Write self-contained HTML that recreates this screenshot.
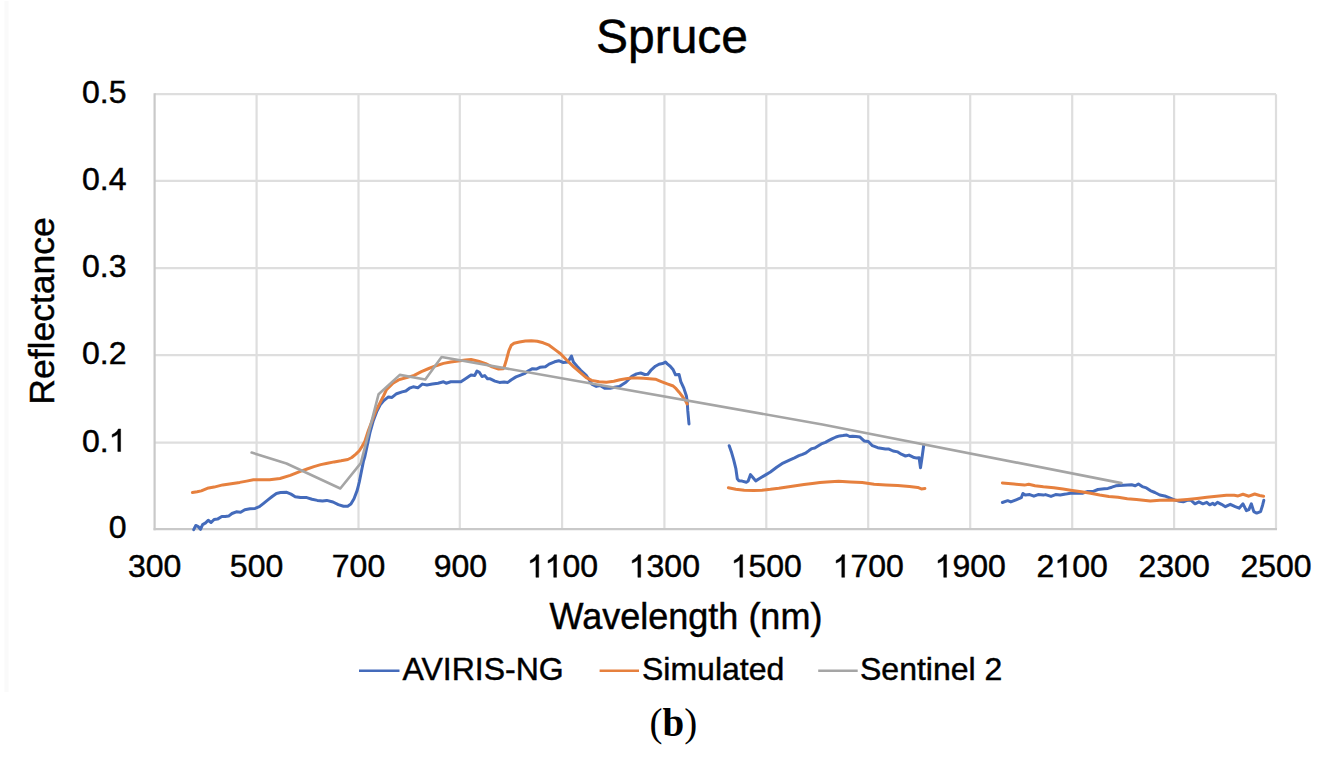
<!DOCTYPE html>
<html><head><meta charset="utf-8"><style>
html,body{margin:0;padding:0;background:#fff;width:1328px;height:762px;overflow:hidden}
svg{display:block}
text{font-family:"Liberation Sans",sans-serif;fill:#000;stroke:#000;stroke-width:0.45px}
</style></head><body>
<svg width="1328" height="762" viewBox="0 0 1328 762">
<rect x="0" y="0" width="1328" height="762" fill="#fff"/>
<rect x="4.5" y="1" width="4" height="691" fill="#fafafa"/>
<g>
<g stroke="#dedede" stroke-width="2.2">
<line x1="256.6" y1="94.2" x2="256.6" y2="529.2"/>
<line x1="358.5" y1="94.2" x2="358.5" y2="529.2"/>
<line x1="459.8" y1="94.2" x2="459.8" y2="529.2"/>
<line x1="562.1" y1="94.2" x2="562.1" y2="529.2"/>
<line x1="664.4" y1="94.2" x2="664.4" y2="529.2"/>
<line x1="766.3" y1="94.2" x2="766.3" y2="529.2"/>
<line x1="868.2" y1="94.2" x2="868.2" y2="529.2"/>
<line x1="970.2" y1="94.2" x2="970.2" y2="529.2"/>
<line x1="1072.2" y1="94.2" x2="1072.2" y2="529.2"/>
<line x1="1174.1" y1="94.2" x2="1174.1" y2="529.2"/>
<line x1="1276.0" y1="94.2" x2="1276.0" y2="529.2"/>
<line x1="154.6" y1="442.7" x2="1276.0" y2="442.7"/>
<line x1="154.6" y1="355.2" x2="1276.0" y2="355.2"/>
<line x1="154.6" y1="268.2" x2="1276.0" y2="268.2"/>
<line x1="154.6" y1="180.9" x2="1276.0" y2="180.9"/>
<line x1="154.6" y1="94.2" x2="1276.0" y2="94.2"/>
</g>
<line x1="154.6" y1="93.2" x2="154.6" y2="530.2" stroke="#c9c9c9" stroke-width="2.2"/>
<line x1="153.6" y1="529.2" x2="1277.0" y2="529.2" stroke="#c9c9c9" stroke-width="2.2"/>
</g>
<g>
<path d="M193.7,529.7 L195.8,525.5 L197.9,526.3 L200.5,529.3 L202.6,524.6 L205.6,522.9 L208.2,520.3 L211.1,522.5 L214.1,519.5 L217.5,519.1 L221.8,516.5 L225.2,516.5 L228.6,516.1 L232.0,513.5 L236.3,511.8 L240.6,512.2 L244.8,509.7 L250.0,508.8 L255.1,508.4 L259.4,506.7 L263.6,503.3 L267.9,499.9 L272.2,496.5 L276.4,493.5 L280.5,492.5 L286.8,492.3 L291.0,494.1 L295.2,496.7 L300.5,497.6 L306.8,497.6 L312.0,499.3 L317.3,500.4 L322.5,501.1 L326.7,500.4 L333.0,502.0 L338.3,504.6 L343.5,506.2 L347.7,506.2 L350.9,504.1 L354.0,498.8 L357.2,490.4 L359.3,482.0 L361.4,471.5 L363.5,461.0 L364.8,456.8 L367.8,442.6 L370.1,432.0 L373.1,421.3 L376.6,411.9 L380.2,404.8 L383.8,400.6 L388.4,396.9 L392.0,397.4 L396.6,393.7 L402.1,391.9 L405.8,391.0 L409.5,388.2 L413.2,386.8 L417.8,387.8 L422.3,384.1 L426.9,385.0 L432.4,384.1 L438.0,383.2 L443.5,381.8 L446.2,383.2 L450.8,381.8 L456.3,381.8 L460.9,381.8 L465.5,378.8 L471.0,375.1 L474.7,375.6 L477.0,371.0 L479.3,372.3 L482.0,376.5 L484.8,375.6 L487.5,378.8 L490.3,378.8 L494.9,381.1 L499.5,382.4 L504.1,382.0 L507.8,382.4 L511.4,379.7 L516.0,376.9 L520.6,375.1 L524.3,373.7 L528.0,371.0 L532.5,368.7 L536.2,369.1 L539.9,367.3 L545.4,366.8 L549.1,364.1 L554.6,361.8 L558.7,360.7 L563.3,362.5 L567.9,362.0 L571.5,356.1 L573.4,362.0 L577.0,366.2 L580.7,370.3 L586.2,375.4 L589.0,379.5 L591.7,384.1 L596.3,386.4 L600.0,385.5 L604.6,388.2 L610.1,388.2 L614.7,387.3 L619.3,386.4 L625.9,382.2 L631.8,376.3 L636.5,373.9 L640.7,373.0 L644.8,374.5 L647.8,374.2 L651.3,369.8 L655.4,366.2 L659.0,364.2 L662.5,363.6 L665.5,362.1 L667.3,363.9 L670.2,366.2 L673.2,369.8 L675.5,374.8 L679.1,374.5 L680.8,381.6 L683.8,388.1 L686.4,396.0 L687.2,401.4 L687.8,410.9 L689.0,423.9" stroke="#446bbb" stroke-width="3" fill="none" stroke-linejoin="round" stroke-linecap="round"/>
<path d="M729.2,445.7 L731.6,452.6 L733.7,459.9 L735.8,468.3 L737.3,478.8 L738.9,480.7 L742.1,481.1 L746.3,482.2 L748.2,480.9 L750.5,474.6 L753.1,477.8 L755.7,480.9 L759.9,478.3 L765.2,475.1 L770.4,472.0 L776.7,467.3 L783.0,463.1 L790.0,459.8 L794.5,457.8 L798.9,455.7 L802.5,454.4 L806.0,452.8 L809.0,450.6 L811.9,448.6 L814.8,448.0 L818.0,446.0 L821.3,443.9 L825.4,442.4 L829.0,440.4 L832.5,438.6 L836.0,437.0 L839.6,435.9 L843.0,435.6 L846.7,435.0 L849.7,436.5 L852.6,436.2 L856.0,436.6 L860.0,437.1 L864.1,440.9 L868.3,441.5 L872.4,445.7 L877.7,447.7 L885.4,448.9 L888.4,448.9 L893.1,451.0 L897.8,451.9 L901.3,454.2 L905.5,456.0 L909.0,455.1 L913.2,457.2 L916.7,458.1 L919.1,457.8 L920.5,467.8 L922.0,457.8 L923.8,444.8" stroke="#446bbb" stroke-width="3" fill="none" stroke-linejoin="round" stroke-linecap="round"/>
<path d="M1002.4,502.5 L1007.7,500.7 L1010.8,501.9 L1016.1,499.8 L1021.3,497.7 L1022.9,493.5 L1025.5,495.1 L1029.7,494.6 L1033.9,496.2 L1038.1,494.6 L1043.4,495.1 L1045.5,494.6 L1051.0,496.4 L1055.6,494.6 L1060.2,495.0 L1065.7,494.1 L1070.3,493.2 L1076.8,493.2 L1082.3,493.2 L1087.8,491.4 L1093.3,491.4 L1097.9,489.5 L1104.3,488.8 L1107.9,488.4 L1111.8,487.2 L1115.8,485.8 L1123.7,485.3 L1131.6,484.7 L1135.3,485.8 L1138.4,484.0 L1142.2,486.6 L1146.4,487.9 L1150.3,490.6 L1154.9,492.5 L1159.8,495.0 L1164.7,495.9 L1169.6,497.9 L1174.5,499.9 L1179.4,501.3 L1183.3,501.8 L1187.2,500.3 L1191.1,500.3 L1195.0,503.8 L1198.9,501.8 L1202.9,503.8 L1206.8,502.3 L1209.7,504.8 L1212.7,503.3 L1214.6,504.8 L1217.5,502.3 L1221.5,504.3 L1225.4,506.7 L1230.3,504.3 L1235.2,506.7 L1239.1,508.2 L1243.0,503.8 L1246.4,510.6 L1248.9,509.6 L1251.3,503.8 L1253.8,511.6 L1256.7,513.1 L1260.6,511.6 L1262.6,505.2 L1263.8,500.3" stroke="#446bbb" stroke-width="3" fill="none" stroke-linejoin="round" stroke-linecap="round"/>
<path d="M192.4,492.6 L197.1,491.8 L201.3,490.9 L207.3,488.3 L214.1,487.1 L222.7,484.9 L231.2,483.7 L239.7,482.4 L246.6,481.1 L253.4,479.8 L261.1,479.8 L269.6,479.8 L280.0,478.5 L290.2,475.4 L300.3,471.3 L307.1,469.0 L313.9,466.6 L320.7,464.6 L327.4,463.2 L334.2,461.9 L341.0,460.8 L347.8,459.5 L351.8,457.5 L355.9,454.1 L359.3,450.7 L362.0,446.5 L364.8,441.4 L368.3,430.8 L371.9,421.3 L375.4,411.9 L380.2,402.4 L383.5,396.0 L386.5,389.6 L393.0,383.2 L399.4,379.5 L406.7,377.6 L414.1,375.4 L421.4,371.7 L428.8,368.5 L436.1,365.7 L443.5,363.4 L450.8,362.0 L458.2,361.1 L465.5,359.9 L471.0,359.5 L478.4,361.3 L485.7,363.6 L492.1,366.8 L498.6,369.1 L503.2,368.7 L504.4,366.5 L506.5,359.5 L508.9,350.7 L511.3,345.2 L514.0,343.2 L519.5,342.0 L525.4,341.0 L531.3,340.7 L537.3,341.3 L543.2,342.8 L549.1,345.2 L555.0,349.6 L560.5,353.8 L566.9,360.2 L573.4,366.6 L579.8,372.1 L586.2,377.6 L591.7,380.4 L599.1,381.8 L606.4,382.2 L613.8,381.3 L620.0,379.8 L625.9,378.8 L631.8,378.0 L637.7,378.0 L643.6,378.3 L649.5,378.7 L655.4,379.2 L661.3,381.6 L667.3,383.9 L673.2,386.0 L676.1,388.7 L679.1,392.2 L683.2,397.5 L685.6,401.0 L687.2,404.0" stroke="#e6803e" stroke-width="3" fill="none" stroke-linejoin="round" stroke-linecap="round"/>
<path d="M728.4,487.8 L735.8,489.3 L744.2,490.2 L753.6,490.6 L762.0,490.2 L770.4,489.3 L778.8,488.2 L787.2,486.9 L795.6,485.8 L804.0,484.6 L812.4,483.6 L820.0,482.6 L826.8,481.9 L838.6,481.3 L850.4,481.9 L862.2,482.6 L874.1,484.2 L885.9,485.0 L897.7,485.6 L909.5,486.5 L917.8,487.4 L921.3,488.9 L924.9,488.5" stroke="#e6803e" stroke-width="3" fill="none" stroke-linejoin="round" stroke-linecap="round"/>
<path d="M1002.4,483.0 L1014.0,484.1 L1024.5,485.1 L1028.7,484.3 L1035.0,485.7 L1043.4,486.7 L1053.8,487.7 L1063.0,489.1 L1072.2,490.4 L1081.4,491.8 L1090.6,493.2 L1099.7,495.0 L1108.9,496.4 L1118.1,497.3 L1127.3,498.7 L1136.5,499.6 L1145.7,500.4 L1150.3,501.0 L1159.8,500.3 L1169.6,499.9 L1177.4,500.3 L1187.2,499.4 L1197.0,498.4 L1206.8,497.2 L1216.6,496.2 L1226.4,495.3 L1234.2,495.3 L1238.1,495.9 L1243.0,494.3 L1248.9,496.2 L1254.7,494.0 L1259.6,495.5 L1263.6,496.2" stroke="#e6803e" stroke-width="3" fill="none" stroke-linejoin="round" stroke-linecap="round"/>
<path d="M251.6,452.6 L286.5,463.5 L340.3,488.5 L360.8,463.1 L378.6,394.2 L399.8,374.9 L425.3,379.5 L441.6,357.0 L822.4,424.5 L1121.5,483.1" stroke="#a5a5a5" stroke-width="2.6" fill="none" stroke-linejoin="round" stroke-linecap="round"/>
<line x1="359" y1="670.7" x2="399.5" y2="670.7" stroke="#446bbb" stroke-width="2.4"/>
<line x1="599.6" y1="670.7" x2="639" y2="670.7" stroke="#e6803e" stroke-width="2.4"/>
<line x1="818.2" y1="670.7" x2="857.7" y2="670.7" stroke="#a5a5a5" stroke-width="2.4"/>
</g>
<g>
<text x="672" y="53.3" text-anchor="middle" font-size="48">Spruce</text>
<g font-size="32">
<text x="126.50" y="538.00" text-anchor="end">0</text>
<text x="126.50" y="451.50" text-anchor="end">0. </text>
<path transform="translate(108.70,451.50) scale(0.015625,-0.015625)" d="M763 0H583V1124Q518 1063 412 1003Q306 942 222 911V1082Q362 1147 467 1237Q572 1327 616 1443H763Z" stroke="#000" stroke-width="0.45" vector-effect="non-scaling-stroke"/>
<text x="126.50" y="364.00" text-anchor="end">0.2</text>
<text x="126.50" y="277.00" text-anchor="end">0.3</text>
<text x="126.50" y="189.70" text-anchor="end">0.4</text>
<text x="126.50" y="103.00" text-anchor="end">0.5</text>
<text x="154.60" y="577.30" text-anchor="middle">300</text>
<text x="256.55" y="577.30" text-anchor="middle">500</text>
<text x="358.50" y="577.30" text-anchor="middle">700</text>
<text x="460.45" y="577.30" text-anchor="middle">900</text>
<text x="562.40" y="577.30" text-anchor="middle">  00</text>
<path transform="translate(526.81,577.30) scale(0.015625,-0.015625)" d="M763 0H583V1124Q518 1063 412 1003Q306 942 222 911V1082Q362 1147 467 1237Q572 1327 616 1443H763Z" stroke="#000" stroke-width="0.45" vector-effect="non-scaling-stroke"/>
<path transform="translate(544.60,577.30) scale(0.015625,-0.015625)" d="M763 0H583V1124Q518 1063 412 1003Q306 942 222 911V1082Q362 1147 467 1237Q572 1327 616 1443H763Z" stroke="#000" stroke-width="0.45" vector-effect="non-scaling-stroke"/>
<text x="664.35" y="577.30" text-anchor="middle"> 300</text>
<path transform="translate(628.76,577.30) scale(0.015625,-0.015625)" d="M763 0H583V1124Q518 1063 412 1003Q306 942 222 911V1082Q362 1147 467 1237Q572 1327 616 1443H763Z" stroke="#000" stroke-width="0.45" vector-effect="non-scaling-stroke"/>
<text x="766.30" y="577.30" text-anchor="middle"> 500</text>
<path transform="translate(730.71,577.30) scale(0.015625,-0.015625)" d="M763 0H583V1124Q518 1063 412 1003Q306 942 222 911V1082Q362 1147 467 1237Q572 1327 616 1443H763Z" stroke="#000" stroke-width="0.45" vector-effect="non-scaling-stroke"/>
<text x="868.25" y="577.30" text-anchor="middle"> 700</text>
<path transform="translate(832.66,577.30) scale(0.015625,-0.015625)" d="M763 0H583V1124Q518 1063 412 1003Q306 942 222 911V1082Q362 1147 467 1237Q572 1327 616 1443H763Z" stroke="#000" stroke-width="0.45" vector-effect="non-scaling-stroke"/>
<text x="970.20" y="577.30" text-anchor="middle"> 900</text>
<path transform="translate(934.61,577.30) scale(0.015625,-0.015625)" d="M763 0H583V1124Q518 1063 412 1003Q306 942 222 911V1082Q362 1147 467 1237Q572 1327 616 1443H763Z" stroke="#000" stroke-width="0.45" vector-effect="non-scaling-stroke"/>
<text x="1072.15" y="577.30" text-anchor="middle">2 00</text>
<path transform="translate(1054.35,577.30) scale(0.015625,-0.015625)" d="M763 0H583V1124Q518 1063 412 1003Q306 942 222 911V1082Q362 1147 467 1237Q572 1327 616 1443H763Z" stroke="#000" stroke-width="0.45" vector-effect="non-scaling-stroke"/>
<text x="1174.10" y="577.30" text-anchor="middle">2300</text>
<text x="1276.05" y="577.30" text-anchor="middle">2500</text>
</g>
<text x="686" y="629.4" text-anchor="middle" font-size="36">Wavelength (nm)</text>
<text transform="translate(54.2,311) rotate(-90)" text-anchor="middle" font-size="35.5">Reflectance</text>
<g font-size="32">
<text x="402.5" y="679.6">AVIRIS-NG</text>
<text x="642" y="679.6">Simulated</text>
<text x="860" y="679.6">Sentinel 2</text>
</g>
<text x="673.4" y="736.4" text-anchor="middle" font-size="39" style="font-family:'Liberation Serif',serif;stroke:none">(<tspan font-weight="bold">b</tspan>)</text>
</g>
</svg>
</body></html>
